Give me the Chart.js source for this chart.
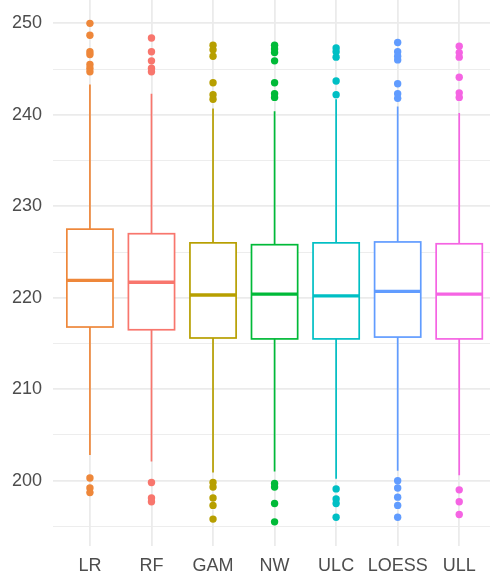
<!DOCTYPE html>
<html>
<head>
<meta charset="utf-8">
<script src="https://cdn.jsdelivr.net/npm/chart.js@4/dist/chart.umd.min.js"></script>
<style>
  html, body { margin: 0; padding: 0; background: #fff; }
  #wrap { width: 490px; height: 583px; }
</style>
</head>
<body>
<div id="wrap"><canvas id="box"></canvas></div>
<script>
// data
const labels = ["LR", "RF", "GAM", "NW", "ULC", "LOESS", "ULL"];
const colors = ["#EE873A", "#F8766D", "#B79F00", "#00BA38", "#00BFC4", "#619CFF", "#F564E3"];
const whiskerLow = [202.8, 202.1, 200.9, 201.0, 200.2, 201.1, 200.6];
const q1 = [216.8, 216.5, 215.6, 215.5, 215.5, 215.7, 215.5];
const median = [221.9, 221.7, 220.3, 220.4, 220.2, 220.7, 220.4];
const q3 = [227.5, 227.0, 226.0, 225.8, 226.0, 226.1, 225.9];
const whiskerHigh = [243.3, 242.3, 240.7, 240.4, 241.7, 240.9, 240.2];
const outliers = [
    [250.0, 248.7, 246.9, 246.6, 245.5, 245.1, 244.7, 200.3, 199.2, 198.7],
    [248.4, 246.9, 245.9, 245.1, 244.7, 199.8, 198.1, 197.7],
    [247.6, 247.1, 246.4, 243.5, 242.2, 241.7, 199.8, 199.3, 198.1, 197.3, 195.8],
    [247.6, 247.2, 246.8, 245.9, 243.5, 242.3, 241.9, 199.7, 199.3, 197.5, 195.5],
    [247.3, 246.9, 246.3, 243.7, 242.2, 199.1, 198.0, 197.5, 196.0],
    [247.9, 246.9, 246.4, 246.0, 243.4, 242.3, 241.8, 200.0, 199.2, 198.2, 197.3, 196.0],
    [247.5, 246.8, 246.3, 244.1, 242.4, 241.9, 199.0, 197.7, 196.3]
];
const yTicks = [195, 200, 205, 210, 215, 220, 225, 230, 235, 240, 245, 250];

const boxWidth = 0.75; // in category units, like ggplot

// boxes, whiskers and medians drawn with the chart's scales
const boxPlugin = {
    id: "boxes",
    beforeDatasetsDraw(chart) {
        const ctx = chart.ctx;
        const xs = chart.scales.x;
        const ys = chart.scales.y;
        ctx.save();
        labels.forEach((lab, i) => {
            const cx = xs.getPixelForValue(i);
            const half = (xs.getPixelForValue(i + boxWidth / 2) - xs.getPixelForValue(i - boxWidth / 2)) / 2;
            const yLo = ys.getPixelForValue(whiskerLow[i]);
            const yQ1 = ys.getPixelForValue(q1[i]);
            const yMed = ys.getPixelForValue(median[i]);
            const yQ3 = ys.getPixelForValue(q3[i]);
            const yHi = ys.getPixelForValue(whiskerHigh[i]);
            ctx.strokeStyle = colors[i];
            ctx.lineWidth = 1.7;
            // whiskers
            ctx.beginPath();
            ctx.moveTo(cx, yHi); ctx.lineTo(cx, yQ3);
            ctx.moveTo(cx, yQ1); ctx.lineTo(cx, yLo);
            ctx.stroke();
            // box
            ctx.fillStyle = "#fff";
            ctx.fillRect(cx - half, yQ3, half * 2, yQ1 - yQ3);
            ctx.strokeRect(cx - half, yQ3, half * 2, yQ1 - yQ3);
            // median
            ctx.lineWidth = 3.4;
            ctx.beginPath();
            ctx.moveTo(cx - half, yMed); ctx.lineTo(cx + half, yMed);
            ctx.stroke();
        });
        ctx.restore();
    }
};

const datasets = labels.map((lab, i) => ({
    label: lab,
    data: outliers[i].map(v => ({ x: i, y: v })),
    backgroundColor: colors[i],
    borderColor: colors[i],
    pointRadius: 3.7,
    pointBorderWidth: 0
}));

new Chart(document.getElementById("box"), {
    type: "scatter",
    data: { datasets: datasets },
    options: {
        responsive: true,
        maintainAspectRatio: false,
        animation: false,
        layout: { padding: 0, autoPadding: false },
        plugins: {
            legend: { display: false },
            tooltip: { enabled: false }
        },
        scales: {
            x: {
                type: "linear",
                min: -0.6,
                max: 6.5,
                afterBuildTicks: s => { s.ticks = labels.map((l, i) => ({ value: i })); },
                afterFit: s => { s.height = 37; s.paddingLeft = 0; s.paddingRight = 0; },
                border: { display: false },
                grid: { color: "#EBEBEB", lineWidth: 1.8, drawTicks: false },
                ticks: {
                    padding: 9,
                    color: "#4D4D4D",
                    font: { family: "'Liberation Sans', Arial, sans-serif", size: 18 },
                    callback: v => labels[v]
                }
            },
            y: {
                min: 192.86,
                max: 252.55,
                afterBuildTicks: s => { s.ticks = yTicks.map(v => ({ value: v })); },
                afterFit: s => { s.width = 53; s.paddingTop = 0; s.paddingBottom = 0; },
                border: { display: false },
                grid: {
                    color: "#EBEBEB",
                    lineWidth: c => (c.tick && c.tick.value % 10 === 0) ? 1.8 : 0.9,
                    drawTicks: false
                },
                ticks: {
                    padding: 11,
                    color: "#4D4D4D",
                    font: { family: "'Liberation Sans', Arial, sans-serif", size: 18 },
                    callback: v => (v % 10 === 0 ? String(v) : "")
                }
            }
        }
    },
    plugins: [boxPlugin]
});
</script>
</body>
</html>
